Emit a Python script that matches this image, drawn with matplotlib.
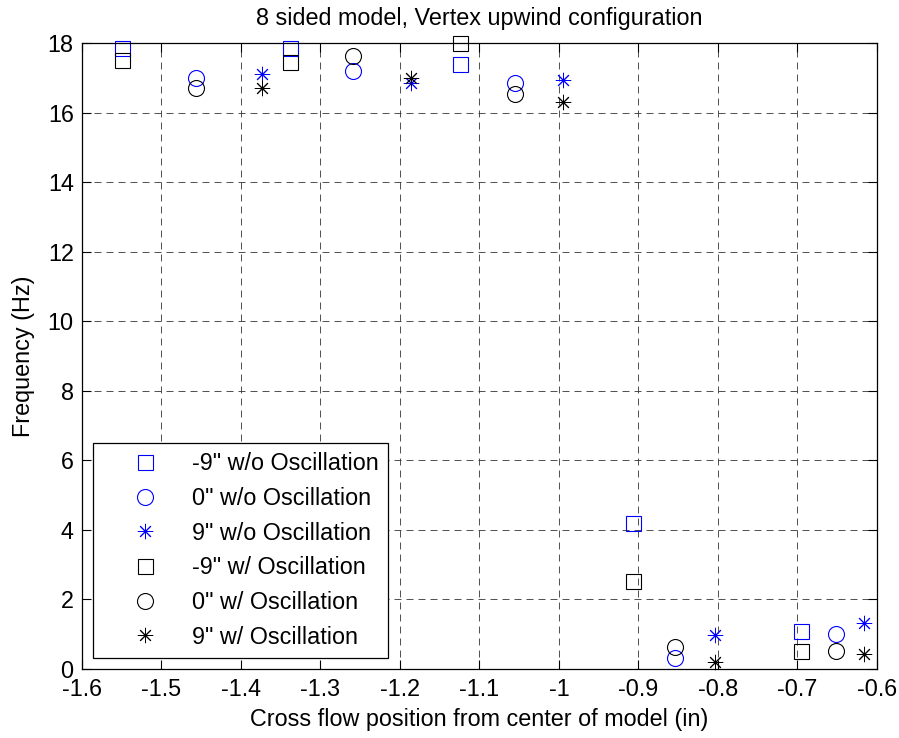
import matplotlib
matplotlib.use("Agg")
import matplotlib.pyplot as plt

plt.rcParams['font.family'] = ['Liberation Sans', 'DejaVu Sans']

# positions of the three probe groups (in)
x_sq = [-1.550, -1.338, -1.124, -0.907, -0.696]
x_ci = [-1.457, -1.259, -1.055, -0.854, -0.652]
x_st = [-1.374, -1.186, -0.995, -0.804, -0.616]

# frequencies (Hz)
f_m9_wo = [17.85, 17.85, 17.41, 4.21, 1.10]
f_0_wo = [17.00, 17.20, 16.84, 0.33, 1.00]
f_9_wo = [17.10, 16.85, 16.94, 0.99, 1.32]
f_m9_w = [17.50, 17.45, 18.00, 2.53, 0.53]
f_0_w = [16.72, 17.63, 16.53, 0.64, 0.53]
f_9_w = [16.72, 17.00, 16.31, 0.21, 0.42]

labels = ['-9" w/o Oscillation', '0" w/o Oscillation', '9" w/o Oscillation',
          '-9" w/ Oscillation', '0" w/ Oscillation', '9" w/ Oscillation']

fig = plt.figure(figsize=(8.99, 7.38), dpi=100)
ax = fig.add_axes([0.0912, 0.0935, 0.8843, 0.8482])

blue = '#0000ff'
ms_sq, ms_ci, ms_st = 10.8, 11.5, 11
ast = (8, 2, 0)   # matlab style asterisk
fs = 16.8

ax.plot(x_sq, f_m9_wo, 's', mfc='none', mec=blue, ms=ms_sq, mew=0.8, label=labels[0], clip_on=False)
ax.plot(x_ci, f_0_wo, 'o', mfc='none', mec=blue, ms=ms_ci, mew=0.8, label=labels[1], clip_on=False)
ax.plot(x_st, f_9_wo, marker=ast, ls='none', color=blue, ms=ms_st, mew=0.7, label=labels[2], clip_on=False)
ax.plot(x_sq, f_m9_w, 's', mfc='none', mec='black', ms=ms_sq, mew=0.8, label=labels[3], clip_on=False)
ax.plot(x_ci, f_0_w, 'o', mfc='none', mec='black', ms=ms_ci, mew=0.8, label=labels[4], clip_on=False)
ax.plot(x_st, f_9_w, marker=ast, ls='none', color='black', ms=ms_st, mew=0.7, label=labels[5], clip_on=False)

ax.set_xlim(-1.6, -0.6)
ax.set_ylim(0, 18)
ax.set_xticks([-1.6, -1.5, -1.4, -1.3, -1.2, -1.1, -1, -0.9, -0.8, -0.7, -0.6])
ax.set_xticklabels(['-1.6', '-1.5', '-1.4', '-1.3', '-1.2', '-1.1', '-1', '-0.9', '-0.8', '-0.7', '-0.6'])
ax.set_yticks(range(0, 19, 2))
ax.tick_params(direction='in', top=True, right=True, labelsize=fs, length=6.5, width=0.8)
ax.tick_params(axis='x', pad=6.5)
ax.tick_params(axis='y', pad=6)
ax.grid(True, color='#333333', linestyle=(0, (8.4, 6)), linewidth=0.6)
for s in ax.spines.values():
    s.set_linewidth(0.9)

ax.set_title('8 sided model, Vertex upwind configuration', fontsize=fs, pad=13)
ax.set_xlabel('Cross flow position from center of model (in)', fontsize=fs, labelpad=5)
ax.set_ylabel('Frequency (Hz)', fontsize=fs, labelpad=9)

leg = ax.legend(loc='lower left', bbox_to_anchor=(0.0138, 0.0176), borderaxespad=0,
                fontsize=fs, fancybox=False, edgecolor='black', framealpha=1,
                labelspacing=0.5, borderpad=0.4, handletextpad=0.2, handlelength=3.65)
leg.get_frame().set_linewidth(0.9)

fig.savefig('out.png', dpi=100)
